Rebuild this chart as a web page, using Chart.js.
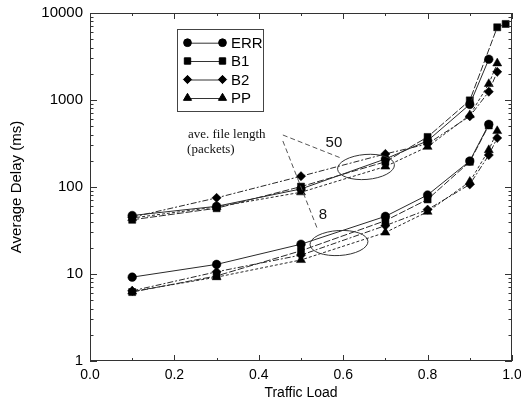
<!DOCTYPE html>
<html><head><meta charset="utf-8">
<script src="https://cdn.jsdelivr.net/npm/chart.js@4.4.0/dist/chart.umd.min.js"></script>
<style>html,body{margin:0;padding:0;background:#fff}</style>
</head><body>
<canvas id="c" width="521" height="402"></canvas>
<script>
// ---- data ----
const seriesNames = ['ERR', 'B1', 'B2', 'PP'];
const xTickLabels = ['0.0', '0.2', '0.4', '0.6', '0.8', '1.0'];
const yTickLabels = ['1', '10', '100', '1000', '10000'];

// average file length = 50 packets
const err50X = [0.1, 0.3, 0.5, 0.7, 0.8, 0.9, 0.945];
const err50Y = [47, 60, 95, 210, 340, 890, 2940];
const b1_50X = [0.1, 0.3, 0.5, 0.7, 0.8, 0.9, 0.965, 0.985];
const b1_50Y = [42, 57, 101, 195, 376, 990, 6850, 7480];
const b2_50X = [0.1, 0.3, 0.5, 0.7, 0.8, 0.9, 0.945, 0.965];
const b2_50Y = [45, 75, 133, 240, 313, 650, 1245, 2110];
const pp50X = [0.1, 0.3, 0.5, 0.7, 0.8, 0.9, 0.945, 0.965];
const pp50Y = [44, 59, 87, 172, 290, 670, 1530, 2640];

// average file length = 8 packets
const err8X = [0.1, 0.3, 0.5, 0.7, 0.8, 0.9, 0.945];
const err8Y = [9.2, 12.9, 22, 46, 81, 199, 525];
const b1_8X = [0.1, 0.3, 0.5, 0.7, 0.8, 0.9, 0.945];
const b1_8Y = [6.2, 9.5, 18.5, 41, 72, 195, 510];
const b2_8X = [0.1, 0.3, 0.5, 0.7, 0.8, 0.9, 0.945, 0.965];
const b2_8Y = [6.4, 10.6, 16.5, 36, 55, 107, 233, 366];
const pp8X = [0.1, 0.3, 0.5, 0.7, 0.8, 0.9, 0.945, 0.965];
const pp8Y = [6.3, 9.2, 14.5, 30, 52, 115, 266, 440];

// ---- styling ----
const FONT = "'Liberation Sans', Arial, sans-serif";
const SERIF = "'Liberation Serif', 'Times New Roman', serif";
const styles = {
  ERR: { pointStyle: 'circle', radius: 4.3, dash: [] },
  B1:  { pointStyle: 'rect', radius: 5, dash: [7, 2] },
  B2:  { pointStyle: 'rectRot', radius: 4.6, dash: [6, 2, 2, 2] },
  PP:  { pointStyle: 'triangle', radius: 5.2, dash: [3, 2] }
};
function pts(xs, ys) { return xs.map((x, i) => ({ x: x, y: ys[i] })); }
function ds(name, xs, ys, group) {
  const s = styles[name];
  return {
    label: name + ' (' + group + ')',
    data: pts(xs, ys),
    borderColor: '#2a2a2a', backgroundColor: '#000',
    pointBackgroundColor: '#000', pointBorderColor: '#000',
    borderWidth: 1, borderDash: s.dash,
    pointStyle: s.pointStyle, pointRadius: s.radius, pointBorderWidth: 0.5,
    tension: 0, fill: false
  };
}
const datasets = [
  ds('ERR', err50X, err50Y, 50), ds('B1', b1_50X, b1_50Y, 50),
  ds('B2', b2_50X, b2_50Y, 50), ds('PP', pp50X, pp50Y, 50),
  ds('ERR', err8X, err8Y, 8), ds('B1', b1_8X, b1_8Y, 8),
  ds('B2', b2_8X, b2_8Y, 8), ds('PP', pp8X, pp8Y, 8)
];

// frame + inward ticks on all four sides
const framePlugin = {
  id: 'frame',
  afterDatasetsDraw(chart) {
    const { ctx, chartArea: a, scales } = chart;
    const xs = scales.x, ys = scales.y;
    ctx.save();
    ctx.strokeStyle = '#333'; ctx.lineWidth = 1;
    ctx.strokeRect(Math.round(a.left) + 0.5, Math.round(a.top) + 0.5,
      Math.round(a.right - a.left) - 1, Math.round(a.bottom - a.top) - 1);
    ctx.beginPath();
    for (let i = 0; i <= 10; i++) {
      const v = i / 10, px = Math.round(xs.getPixelForValue(v)) + 0.5;
      const L = (i % 2 === 0) ? 6 : 3;
      ctx.moveTo(px, a.bottom); ctx.lineTo(px, a.bottom - L);
      ctx.moveTo(px, a.top); ctx.lineTo(px, a.top + L);
    }
    for (let d = 0; d <= 4; d++) {
      for (let m = 1; m <= 9; m++) {
        const v = m * Math.pow(10, d);
        if (v > 10000) break;
        const py = Math.round(ys.getPixelForValue(v)) + 0.5;
        const L = m === 1 ? 7 : 3.5;
        ctx.moveTo(a.left, py); ctx.lineTo(a.left + L, py);
        ctx.moveTo(a.right, py); ctx.lineTo(a.right - L, py);
      }
    }
    ctx.stroke();
    ctx.restore();
  }
};

// legend box and annotations
const annPlugin = {
  id: 'ann',
  afterDraw(chart) {
    const { ctx, chartArea: a, scales } = chart;
    const X = v => scales.x.getPixelForValue(v), Y = v => scales.y.getPixelForValue(v);
    ctx.save();
    // legend
    const bx = 177.5, by = 29.5, bw = 86, bh = 82;
    ctx.fillStyle = '#fff'; ctx.fillRect(bx, by, bw, bh);
    ctx.strokeStyle = '#444'; ctx.lineWidth = 1; ctx.strokeRect(bx, by, bw, bh);
    const rowY = [42.7, 61, 79.5, 98];
    seriesNames.forEach((n, i) => {
      const s = styles[n], y = rowY[i];
      ctx.strokeStyle = '#333'; ctx.lineWidth = 1; ctx.setLineDash([]);
      ctx.beginPath(); ctx.moveTo(188, y + 0.5); ctx.lineTo(222, y + 0.5); ctx.stroke();
      ctx.fillStyle = '#000'; ctx.strokeStyle = '#000';
      Chart.helpers.drawPoint(ctx, { pointStyle: s.pointStyle, radius: s.radius * 0.9, borderWidth: 0.5 }, 187.5, y);
      Chart.helpers.drawPoint(ctx, { pointStyle: s.pointStyle, radius: s.radius * 0.9, borderWidth: 0.5 }, 222.5, y);
      ctx.fillStyle = '#000';
      ctx.font = '15px ' + FONT; ctx.textBaseline = 'middle'; ctx.textAlign = 'left';
      ctx.fillText(n, 231, y + 1);
    });
    // annotation text
    ctx.fillStyle = '#111';
    ctx.font = '13px ' + SERIF; ctx.textBaseline = 'middle'; ctx.textAlign = 'left';
    ctx.fillText('ave. file length', X(0.232), Y(396));
    ctx.fillText('(packets)', X(0.230), Y(266));
    ctx.font = '15px ' + FONT; ctx.textAlign = 'center';
    ctx.fillText('50', X(0.578), Y(321));
    ctx.fillText('8', X(0.552), Y(47.7));
    // ellipses
    ctx.strokeStyle = '#333'; ctx.lineWidth = 1;
    ctx.beginPath(); ctx.ellipse(X(0.654), Y(170), 28.5, 12.5, -0.08, 0, Math.PI * 2); ctx.stroke();
    ctx.beginPath(); ctx.ellipse(X(0.590), Y(22.7), 29, 12.5, -0.06, 0, Math.PI * 2); ctx.stroke();
    // leader lines
    ctx.setLineDash([5, 3]); ctx.strokeStyle = '#555';
    ctx.beginPath(); ctx.moveTo(X(0.457), Y(396)); ctx.lineTo(X(0.595), Y(215)); ctx.stroke();
    ctx.beginPath(); ctx.moveTo(X(0.457), Y(338)); ctx.lineTo(X(0.540), Y(32)); ctx.stroke();
    ctx.restore();
  }
};

new Chart(document.getElementById('c'), {
  type: 'line',
  data: { datasets: datasets },
  options: {
    responsive: false, animation: false, devicePixelRatio: 1,
    layout: { padding: { top: 13, right: 9, left: 0, bottom: 0 } },
    plugins: { legend: { display: false }, tooltip: { enabled: false } },
    scales: {
      x: {
        type: 'linear', min: 0, max: 1,
        grid: { display: false, drawTicks: false }, border: { display: false },
        ticks: {
          stepSize: 0.2, color: '#000', font: { family: FONT, size: 14 }, padding: 6,
          maxRotation: 0, autoSkip: false,
          callback: (v) => { const i = Math.round(v * 5); return Math.abs(v * 5 - i) < 1e-6 ? xTickLabels[i] : ''; }
        },
        title: { display: true, text: 'Traffic Load', color: '#000', font: { family: FONT, size: 14 }, padding: { top: 0, bottom: 0 } },
        afterFit: (s) => { s.height = 41; s.paddingLeft = 0; s.paddingRight = 0; }
      },
      y: {
        type: 'logarithmic', min: 1, max: 10000,
        grid: { display: false, drawTicks: false }, border: { display: false },
        ticks: {
          color: '#000', font: { family: FONT, size: 15 }, padding: 7, autoSkip: false,
          callback: (v) => { const l = Math.log10(v); return Math.abs(l - Math.round(l)) < 1e-9 ? yTickLabels[Math.round(l)] : ''; }
        },
        title: { display: true, text: 'Average Delay (ms)', color: '#000', font: { family: FONT, size: 15 }, padding: { top: 8, bottom: 0 } },
        afterFit: (s) => { s.width = 90; s.paddingTop = 0; s.paddingBottom = 0; }
      }
    }
  },
  plugins: [framePlugin, annPlugin]
});
</script>
</body></html>
